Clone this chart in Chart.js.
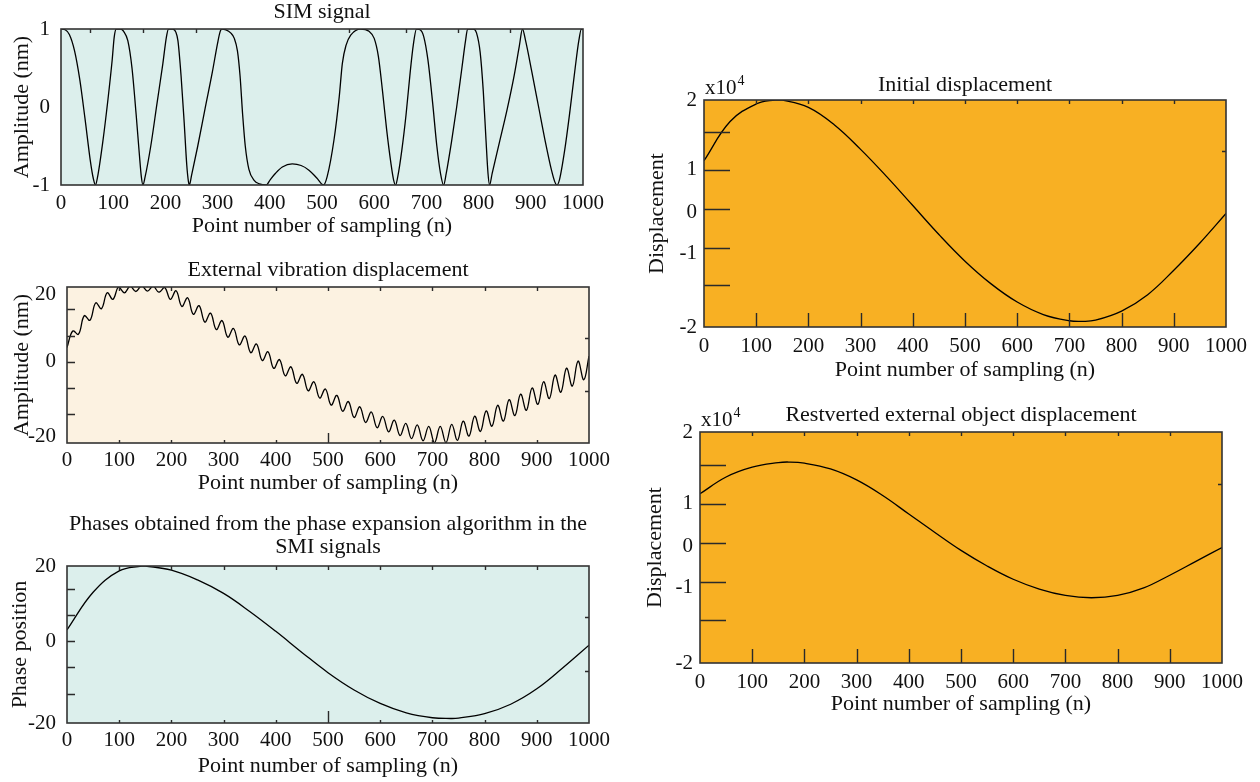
<!DOCTYPE html>
<html>
<head>
<meta charset="utf-8">
<script src="https://cdn.jsdelivr.net/npm/chart.js@4.4.1/dist/chart.umd.min.js"></script>
<style>
  html, body { margin: 0; padding: 0; background: #fff; }
  body { position: relative; width: 1260px; height: 782px; overflow: hidden; }
  canvas { position: absolute; }
</style>
</head>
<body>
<canvas id="sim" width="620" height="250" style="left:0;top:0"></canvas>
<canvas id="vib" width="620" height="260" style="left:0;top:250px"></canvas>
<canvas id="phase" width="620" height="277" style="left:0;top:505px"></canvas>
<canvas id="init" width="630" height="330" style="left:630px;top:60px"></canvas>
<canvas id="rest" width="630" height="340" style="left:630px;top:390px"></canvas>
<script>
// ---- data: [sample n, value] ----
const xTickVals = [0, 100, 200, 300, 400, 500, 600, 700, 800, 900, 1000];

const simSignal = [
  [0,1],[8,0.99],[16,0.93],[26,0.72],[36,0.35],[46,-0.15],[56,-0.68],[62,-0.92],[66,-1],
  [70,-0.9],[80,-0.45],[90,0.1],[98,0.6],[102,0.9],[106,1],
  [114,1],[120,0.97],[128,0.85],[136,0.5],[144,-0.1],[150,-0.6],[154,-0.9],[157,-1],
  [161,-0.9],[172,-0.5],[184,0.05],[195,0.55],[202,0.9],[206,1],
  [214,1],[220,0.96],[224,0.85],[230,0.4],[236,-0.2],[241,-0.75],[244,-0.95],[246,-1],
  [250,-0.88],[262,-0.5],[276,-0.02],[290,0.45],[300,0.82],[305,0.97],[308,1],
  [316,0.99],[325,0.95],[332,0.88],[338,0.72],[343,0.4],[348,-0.1],[353,-0.5],[360,-0.8],[370,-0.94],[380,-0.985],[393,-1],
  [401,-0.93],[411,-0.85],[424,-0.77],[443,-0.73],[460,-0.75],[475,-0.81],[490,-0.91],[503,-1],
  [510,-0.89],[523,-0.42],[533,0.13],[539,0.56],[546,0.79],[555,0.92],[574,1],[590,0.97],[600,0.88],
  [608,0.65],[616,0.2],[624,-0.3],[632,-0.72],[637,-0.93],[641,-1],
  [645,-0.9],[653,-0.55],[661,-0.1],[669,0.45],[675,0.8],[681,1],[688,0.99],[695,0.9],
  [703,0.6],[712,0.05],[720,-0.5],[727,-0.85],[733,-1],
  [738,-0.85],[748,-0.45],[758,0],[768,0.5],[775,0.85],[779,1],[790,1],[796,0.95],
  [803,0.7],[809,0.2],[814,-0.4],[818,-0.85],[821,-1],
  [826,-0.85],[840,-0.45],[855,-0.02],[868,0.4],[878,0.78],[884,1],
  [890,0.85],[902,0.45],[915,0],[928,-0.45],[940,-0.82],[946,-0.96],[950,-1],
  [955,-0.93],[965,-0.55],[975,-0.05],[985,0.5],[992,0.85],[997,1],[1000,1]
];

const vibration = [
  [0,3.8],[11,8.2],[22,7.35],[33,12.3],[44,11.1],[55,15.75],[66,14.2],[77,18.45],[88,16.7],[99,20.1],
  [110,18.45],[121,20.2],[132,18.8],[143,20.3],[154,18.9],[165,20.2],[176,18.6],[187,19.9],[198,16.7],[209,19.0],
  [220,14.8],[231,17.1],[242,12.7],[253,15.0],[264,10.6],[275,13.0],[286,8.6],[297,11.0],[308,6.55],[319,8.9],
  [330,4.5],[341,6.85],[352,2.4],[363,4.75],[374,0.3],[385,2.65],[396,-1.8],[407,0.55],[418,-3.8],[429,-1.4],
  [440,-5.8],[451,-3.4],[462,-7.8],[473,-5.4],[484,-9.75],[495,-7.35],[506,-11.65],[517,-9.05],[528,-13.3],[539,-10.7],
  [550,-14.95],[561,-12.1],[572,-16.3],[583,-13.5],[594,-17.7],[605,-14.7],[616,-18.8],[627,-15.7],[638,-19.8],[649,-16.55],
  [660,-20.6],[671,-16.95],[682,-21.2],[693,-17.35],[704,-21.7],[715,-17.35],[726,-21.7],[737,-16.8],[748,-21.1],[759,-15.95],
  [770,-19.95],[781,-14.6],[792,-18.7],[803,-13.2],[814,-17.3],[825,-11.7],[836,-15.95],[847,-10.2],[858,-14.45],[869,-8.7],
  [880,-13.05],[891,-7.05],[902,-11.45],[913,-5.4],[924,-9.9],[935,-3.6],[946,-8.2],[957,-1.75],[968,-6.55],[979,0.15],
  [990,-4.85],[1000,1.5]
];

const phasePosition = [
  [0,3],[50,13],[100,18.7],[143,20],[150,20],[200,18.9],[250,16.3],[300,12.7],[350,7.9],[400,2.6],
  [450,-3.0],[500,-8.4],[550,-13.0],[600,-16.6],[650,-19.1],[700,-20.4],[735,-20.6],[750,-20.5],
  [800,-19.3],[850,-16.8],[900,-12.7],[950,-7.1],[1000,-1.1]
];

const initialDisp = [
  [0,0.93],[50,1.62],[100,1.93],[136,2.0],[150,2.0],[200,1.87],[250,1.56],[300,1.13],[350,0.65],[400,0.14],
  [450,-0.37],[500,-0.84],[550,-1.24],[600,-1.56],[650,-1.78],[700,-1.89],[725,-1.9],[750,-1.88],
  [800,-1.72],[850,-1.43],[900,-1.0],[950,-0.52],[1000,0.0]
];

const restoredDisp = [
  [0,0.93],[50,1.22],[100,1.39],[150,1.47],[170,1.48],[200,1.46],[250,1.36],[300,1.17],[350,0.9],[400,0.58],
  [450,0.26],[500,-0.05],[550,-0.32],[600,-0.55],[650,-0.72],[700,-0.83],[750,-0.87],[800,-0.83],
  [850,-0.7],[900,-0.48],[950,-0.24],[1000,0.0]
];

// tick labels
const simYVals = [-1, 0, 1];
const simYText = ['-1', '0', '1'];
const vibYVals = [-20, 0, 18];
const vibYText = ['-20', '0', '20'];
const phaseYVals = [-21.8, 0, 20];
const phaseYText = ['-20', '0', '20'];
const dispYVals = [-2, -0.7, 0.02, 0.77, 2];
const dispYText = ['-2', '-1', '0', '1', '2'];

const SERIF = "'Liberation Serif', 'Times New Roman', serif";
const font = (size, lh) => ({ family: SERIF, size: size, weight: 'normal', lineHeight: lh || 1.2 });
const TICK = 21, TXT = 22;
const LH = TICK * 1.2;   // tick label line height
const TLH = TXT * 1.2;   // axis title line height

// background, frame and the odd inside tick marks of the original
const framePlugin = {
  id: 'frame',
  beforeDraw(chart, args, o) {
    const a = chart.chartArea, ctx = chart.ctx;
    ctx.save();
    ctx.fillStyle = o.bg;
    ctx.fillRect(a.left, a.top, a.right - a.left, a.bottom - a.top);
    ctx.restore();
  },
  afterDatasetsDraw(chart, args, o) {
    const a = chart.chartArea, ctx = chart.ctx;
    const xs = chart.scales.x, ys = chart.scales.y;
    ctx.save();
    ctx.strokeStyle = '#2a2a2a';
    ctx.lineWidth = 1.4;
    ctx.beginPath();
    (o.left || []).forEach(v => { const y = Math.round(ys.getPixelForValue(v)) + 0.5; ctx.moveTo(a.left, y); ctx.lineTo(a.left + o.leftLen, y); });
    (o.right || []).forEach(v => { const y = Math.round(ys.getPixelForValue(v)) + 0.5; ctx.moveTo(a.right, y); ctx.lineTo(a.right - 4, y); });
    (o.top || []).forEach(v => { const x = Math.round(xs.getPixelForValue(v)) + 0.5; ctx.moveTo(x, a.top); ctx.lineTo(x, a.top + 4); });
    (o.bottom || []).forEach(v => { const x = Math.round(xs.getPixelForValue(v)) + 0.5; ctx.moveTo(x, a.bottom); ctx.lineTo(x, a.bottom - 3); });
    (o.bottomLong || []).forEach(v => { const x = Math.round(xs.getPixelForValue(v)) + 0.5; ctx.moveTo(x, a.bottom); ctx.lineTo(x, a.bottom - o.bottomLen); });
    ctx.stroke();
    ctx.lineWidth = 1.6;
    ctx.strokeStyle = '#333';
    ctx.strokeRect(a.left, a.top, a.right - a.left, a.bottom - a.top);
    if (o.exp) {
      ctx.fillStyle = '#111';
      ctx.textBaseline = 'alphabetic';
      ctx.font = '21px ' + SERIF;
      const y = a.top - 6;
      ctx.fillText('x10', a.left + 1, y);
      const w = ctx.measureText('x10').width;
      ctx.font = '14px ' + SERIF;
      ctx.fillText('4', a.left + 2 + w, y - 9);
    }
    ctx.restore();
  }
};

function panel(id, cfg) {
  const c = document.getElementById(id);
  const W = c.width, H = c.height;
  const [bl, bt, br, bb] = cfg.box;
  const lines = Array.isArray(cfg.title) ? cfg.title.length : 1;
  const tLH = TXT * (cfg.titleLH || 1.2);
  const tTop = cfg.titleY - tLH / 2;
  new Chart(c, {
    type: 'line',
    data: {
      datasets: [{
        data: cfg.points.map(p => ({ x: p[0], y: p[1] })),
        borderColor: '#000',
        borderWidth: 1.3,
        pointRadius: 0,
        fill: false,
        tension: cfg.tension,
        cubicInterpolationMode: cfg.mono ? 'monotone' : 'default'
      }]
    },
    options: {
      responsive: false,
      animation: false,
      devicePixelRatio: 1,
      layout: { padding: { left: 0, top: 0, right: W - br, bottom: 0 } },
      plugins: {
        legend: { display: false },
        tooltip: { enabled: false },
        title: {
          display: true, text: cfg.title, color: '#111', fullSize: false,
          font: font(TXT, cfg.titleLH),
          padding: { top: tTop, bottom: bt - tTop - lines * tLH }
        },
        frame: cfg.frame
      },
      scales: {
        x: {
          type: 'linear', min: 0, max: 1000,
          afterBuildTicks: s => { s.ticks = xTickVals.map(v => ({ value: v })); },
          afterFit: s => { s.height = H - bb; },
          grid: { display: false, drawTicks: false },
          border: { display: false },
          ticks: { color: '#111', font: font(TICK), padding: cfg.xLabelY - bb - LH / 2, maxRotation: 0, autoSkip: false,
                   callback: v => String(v) },
          title: { display: true, text: 'Point number of sampling (n)', color: '#111', font: font(TXT),
                   padding: { top: 0, bottom: H - cfg.xTitleY - TLH / 2 } }
        },
        y: {
          min: cfg.yMin, max: cfg.yMax,
          afterBuildTicks: s => { s.ticks = cfg.yVals.map(v => ({ value: v })); },
          afterFit: s => { s.width = bl; },
          grid: { display: false, drawTicks: false },
          border: { display: false },
          ticks: { color: '#111', font: font(TICK), padding: cfg.yLabelPad, autoSkip: false,
                   callback: (v, i) => cfg.yText[i] },
          title: { display: true, text: cfg.yTitle, color: '#111', font: font(TXT),
                   padding: { top: cfg.yTitleX - TLH / 2, bottom: 0 } }
        }
      }
    },
    plugins: [framePlugin]
  });
}

const hundreds = [100, 200, 300, 400, 500, 600, 700, 800, 900];

panel('sim', {
  points: simSignal, mono: true, tension: 0,
  title: 'SIM signal', titleY: 12,
  box: [61, 29, 583, 185], xLabelY: 203, xTitleY: 226,
  yMin: -1, yMax: 1, yVals: simYVals, yText: simYText, yTitle: 'Amplitude (nm)', yTitleX: 22, yLabelPad: 11,
  frame: { bg: '#dcefec', top: [56, 158, 258, 551, 660, 760, 860] }
});

panel('vib', {
  points: vibration, mono: false, tension: 0.4,
  title: 'External vibration displacement', titleY: 20,
  box: [67, 37, 589, 193], xLabelY: 210, xTitleY: 233,
  yMin: -21.8, yMax: 20, yVals: vibYVals, yText: vibYText, yTitle: 'Amplitude (nm)', yTitleX: 22, yLabelPad: 11,
  frame: { bg: '#fcf2e1', left: [14, 7, 0, -7, -14], leftLen: 8, right: [6.3, -8], top: hundreds,
           bottom: [100, 200, 300, 400, 600, 700, 800, 900], bottomLong: [500], bottomLen: 10 }
});

panel('phase', {
  points: phasePosition, mono: false, tension: 0.4,
  title: ['Phases obtained from the phase expansion algorithm in the', 'SMI signals'], titleY: 19, titleLH: 1.05,
  box: [67, 61, 589, 218], xLabelY: 235, xTitleY: 261,
  yMin: -21.8, yMax: 20, yVals: phaseYVals, yText: phaseYText, yTitle: 'Phase position', yTitleX: 20, yLabelPad: 11,
  frame: { bg: '#dcefec', left: [14, 7, 0, -7, -14], leftLen: 8, right: [6.3, -8], top: hundreds,
           bottom: [100, 200, 300, 400, 600, 700, 800, 900], bottomLong: [500], bottomLen: 12 }
});

panel('init', {
  points: initialDisp, mono: false, tension: 0.4,
  title: 'Initial displacement', titleY: 25,
  box: [74, 40, 596, 267], xLabelY: 286, xTitleY: 310,
  yMin: -2, yMax: 2, yVals: dispYVals, yText: dispYText, yTitle: 'Displacement', yTitleX: 27, yLabelPad: 7,
  frame: { bg: '#f8b023', left: [1.43, 0.76, 0.08, -0.6, -1.26], leftLen: 26, right: [1.1], top: hundreds,
           bottomLong: hundreds, bottomLen: 14, exp: true }
});

panel('rest', {
  points: restoredDisp, mono: false, tension: 0.4,
  title: 'Restverted external object displacement', titleY: 25,
  box: [70, 42, 592, 273], xLabelY: 292, xTitleY: 314,
  yMin: -2, yMax: 2, yVals: dispYVals, yText: dispYText, yTitle: 'Displacement', yTitleX: 25, yLabelPad: 7,
  frame: { bg: '#f8b023', left: [1.43, 0.76, 0.08, -0.6, -1.26], leftLen: 26, right: [1.1], top: hundreds,
           bottomLong: hundreds, bottomLen: 14, exp: true }
});
</script>
</body>
</html>
